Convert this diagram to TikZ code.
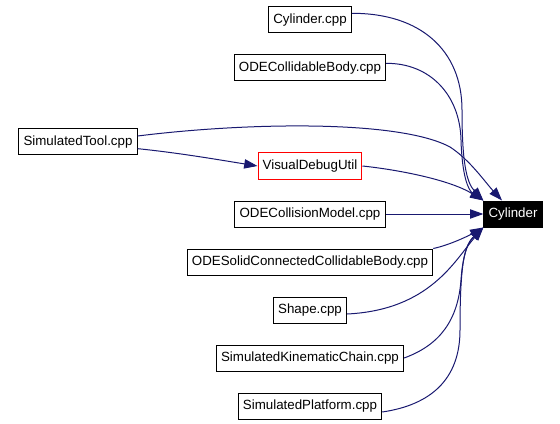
\documentclass[tikz,border=0pt]{standalone}
\usepackage{fontspec}
\setmainfont{Liberation Sans}
\usepackage{xcolor}
\usepackage{tikz}
\usetikzlibrary{arrows.meta}

\definecolor{edgeblue}{RGB}{25,25,112}
\tikzset{
    file/.style={draw=black, line width=0.75pt, minimum height=19.5pt, inner xsep=3.5pt, inner ysep=0pt, font=\fontsize{10pt}{12pt}\selectfont},
    util/.style={file, draw=red},
    cls/.style={file, fill=black, text=white},
    dep/.style={edgeblue, line width=0.75pt, -{Triangle[length=10pt,width=7pt]}}
}

\begin{document}
\begin{tikzpicture}[x=0.75pt, y=-0.75pt]
    \useasboundingbox (0,0) rectangle (560,424);

    % Class node
    \node[cls] (cyl) at (513,214) {Cylinder};

    % Files and classes using it
    \node[file] (cylcpp) at (310,20) {Cylinder.cpp};
    \node[file] (odecb) at (310,68) {ODECollidableBody.cpp};
    \node[file] (simtool) at (78,142) {SimulatedTool.cpp};
    \node[util] (vdu) at (310,166) {VisualDebugUtil};
    \node[file] (odecm) at (310,214) {ODECollisionModel.cpp};
    \node[file] (odesolid) at (310,262) {ODESolidConnectedCollidableBody.cpp};
    \node[file] (shape) at (310,310) {Shape.cpp};
    \node[file] (simkin) at (310,358) {SimulatedKinematicChain.cpp};
    \node[file] (simplat) at (310,406) {SimulatedPlatform.cpp};

    % Edges from above
    \draw[dep] ([yshift=5pt]cylcpp.east) .. controls (420,13) and (462,50) .. (462,110)
        .. controls (462,160) and (466,182) .. (cyl.north west);
    \draw[dep] ([yshift=3.5pt]odecb.east) .. controls (430,63) and (460,95) .. (461,140)
        .. controls (462,175) and (468,190) .. (cyl.north west);
    \draw[dep] ([yshift=4.5pt]simtool.east) .. controls (250,122) and (400,120) .. (450,147)
        .. controls (470,160) and (485,182) .. ([xshift=14pt]cyl.north west);
    \draw[dep] ([yshift=-5pt]simtool.east) .. controls (180,153) and (220,160) .. (vdu.west);
    \draw[dep] (vdu.east) .. controls (400,170) and (450,180) .. (cyl.north west);

    % Straight edge
    \draw[dep] (odecm.east) -- (cyl.west);

    % Edges from below
    \draw[dep] (odesolid.north east) .. controls (450,245) and (470,235) .. (cyl.south west);
    \draw[dep] ([yshift=-3pt]shape.east) .. controls (430,310) and (455,260) .. (cyl.south west);
    \draw[dep] (simkin.east) .. controls (440,345) and (458,320) .. (461,280)
        .. controls (463,250) and (470,240) .. (cyl.south west);
    \draw[dep] ([yshift=-4.5pt]simplat.east) .. controls (430,405) and (460,380) .. (460,330)
        .. controls (460,260) and (465,245) .. (cyl.south west);
\end{tikzpicture}
\end{document}
